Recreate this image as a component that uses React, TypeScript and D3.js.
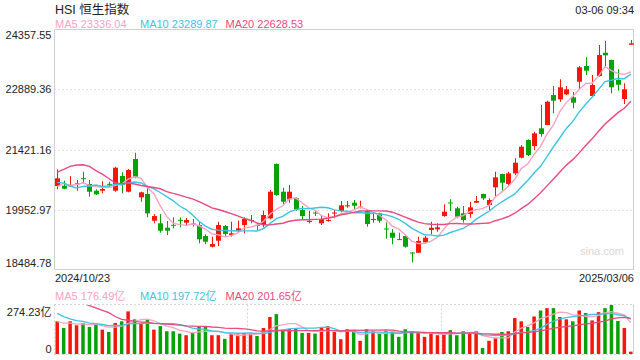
import React from "react";
import * as d3 from "d3";

const title = "HSI 恒生指数";
const timestamp = "03-06 09:34";
const dateLabels = ["2024/10/23", "2025/03/06"];

const opens = [20528, 20535, 20528, 20586, 20718, 20577, 20413, 20413, 20581, 20413, 20772, 20388, 21188, 20251, 20332, 19678, 19615, 19507, 19578, 19700, 19630, 19610, 19573, 19304, 19042, 19189, 19549, 19329, 19434, 19573, 19688, 19578, 19573, 19737, 21066, 20388, 20202, 20227, 19940, 19666, 19879, 19615, 19671, 19872, 19916, 20048, 20119, 20014, 19916, 19713, 19859, 19488, 19385, 19228, 19304, 18900, 18895, 19150, 19451, 19468, 19793, 20124, 19982, 19859, 19842, 20119, 20332, 20063, 20496, 20821, 20577, 20838, 21220, 21653, 21506, 21939, 22020, 22754, 22649, 22771, 22698, 23080, 23464, 22730, 23219, 23789, 23611, 23121, 22656, 23985];
const highs = [20936, 20657, 20772, 20674, 20877, 20674, 20447, 20643, 20633, 21000, 20863, 20943, 21342, 20388, 20510, 19842, 19842, 19671, 19762, 19762, 19745, 19720, 19654, 19346, 19287, 19654, 19573, 19654, 19678, 19762, 19818, 19615, 19923, 20430, 21080, 20486, 20552, 20251, 20038, 19923, 19940, 19818, 19859, 19940, 20161, 20161, 20185, 20168, 19940, 19874, 19874, 19639, 19475, 19385, 19346, 18910, 19287, 19304, 19654, 19615, 20080, 20202, 20021, 20038, 20136, 20283, 20340, 20227, 20877, 20830, 20877, 21205, 21531, 21670, 21856, 22510, 22615, 22975, 23139, 22975, 22828, 23464, 23677, 23244, 23978, 24076, 23620, 23383, 23041, 24100];
const lows = [20447, 20447, 20510, 20413, 20594, 20266, 20307, 20349, 20496, 20388, 20349, 20373, 20716, 20143, 19762, 19615, 19385, 19329, 19492, 19517, 19573, 19537, 19125, 19101, 19027, 19059, 19304, 19287, 19385, 19370, 19615, 19434, 19517, 19713, 20290, 20087, 20119, 19923, 19713, 19615, 19793, 19573, 19654, 19737, 19884, 19997, 19965, 19982, 19532, 19630, 19630, 19238, 19101, 19206, 19018, 18660, 18890, 19150, 19346, 19409, 19776, 19916, 19737, 19630, 19752, 20119, 20185, 19940, 20283, 20413, 20528, 20797, 21205, 21262, 21408, 21734, 22020, 22307, 22590, 22754, 22429, 22894, 23244, 22714, 23203, 23464, 22796, 22860, 22534, 23985];
const closes = [20716, 20462, 20545, 20594, 20711, 20388, 20324, 20454, 20572, 20975, 20552, 20919, 20755, 20373, 19859, 19793, 19434, 19434, 19568, 19691, 19696, 19598, 19223, 19164, 19108, 19573, 19353, 19370, 19492, 19720, 19696, 19568, 19818, 20388, 20307, 20143, 20388, 19965, 19793, 19671, 19872, 19720, 19696, 19879, 20055, 20055, 20046, 20021, 19598, 19720, 19678, 19480, 19262, 19221, 19042, 18893, 19182, 19262, 19507, 19517, 19899, 20117, 19776, 19696, 20006, 20161, 20227, 20185, 20740, 20608, 20838, 21098, 21489, 21286, 21817, 21800, 22590, 22615, 22943, 22894, 22566, 23432, 23349, 22999, 23733, 23726, 22943, 23006, 22894, 24019];
const volumes = [181, 144, 181, 159, 172, 150, 163, 135, 122, 172, 181, 236, 192, 168, 190, 135, 155, 126, 126, 113, 104, 119, 150, 150, 104, 104, 84, 113, 108, 117, 113, 100, 144, 205, 221, 135, 139, 139, 117, 117, 113, 144, 154, 122, 82, 137, 126, 73, 137, 126, 113, 126, 122, 95, 137, 126, 119, 95, 113, 104, 113, 132, 104, 126, 117, 126, 33, 73, 90, 122, 126, 199, 181, 150, 208, 241, 254, 254, 205, 192, 181, 241, 227, 186, 232, 254, 274.23, 183, 144, 13];

// earlier sessions, used only to seed the moving averages
const priorCloses = [19129, 19071, 19924, 20632, 21134, 22444, 22114, 22737, 23100, 20927, 20637, 21252, 21093, 20319, 20286, 20080, 20804, 20478, 20499];
const priorVolumes = [280, 330, 350, 400, 420, 423, 395, 382, 600, 504, 324, 311, 249, 212, 254, 189, 181, 184, 165];

const priceTicks = [24357.55, 22889.36, 21421.16, 19952.97, 18484.78];
const priceTickLabels = ["24357.55", "22889.36", "21421.16", "19952.97", "18484.78"];
const volTicks = [274.23, 0];
const volTickLabels = ["274.23亿", "0"];

const maPeriods = [5, 10, 20];
const maNames = ["MA5", "MA10", "MA20"];
const maLegendValues = ["23336.04", "23289.87", "22628.53"];
const volMaLegendValues = ["176.49亿", "197.72亿", "201.65亿"];
const maColors = ["#f7a3c2", "#3cc4e3", "#ea4a7e"];

const UP = "#f3180a";
const DOWN = "#06a206";
const FONT = "'Liberation Sans', Arial, 'Noto Sans CJK SC', sans-serif";

const L = 54, R = 634;
const MT = 29.5, MB = 269.5;
const VT = 304.5, VB = 354;

function movingAvg(prior: number[], vals: number[], n: number): number[] {
  const all = prior.concat(vals);
  const off = prior.length;
  return vals.map((_, i) => {
    const end = off + i;
    return d3.mean(all.slice(end - n + 1, end + 1)) as number;
  });
}

export default function App() {
  const idx = d3.range(closes.length);
  const x = d3.scaleBand<number>().domain(idx).range([L, R]).paddingInner(0.22).paddingOuter(0.11);
  const cx = (i: number) => (x(i) as number) + x.bandwidth() / 2;
  const y = d3.scaleLinear().domain([18484.78, 24357.55]).range([MB, MT]);
  const yv = d3.scaleLinear().domain([0, volTicks[0]]).range([VB, VT]);
  const bodyW = 5;
  const volW = 3.5;

  const priceMA = maPeriods.map((n) => movingAvg(priorCloses, closes, n));
  const volMA = maPeriods.map((n) => movingAvg(priorVolumes, volumes, n));
  const line = (sc: d3.ScaleLinear<number, number>) =>
    d3.line<number>().x((_, i) => cx(i)).y((d) => sc(d));

  const thirds = [L + (R - L) / 3, L + (2 * (R - L)) / 3];
  const legendX = [55, 140, 225.5];

  return (
    <svg width={640} height={360} style={{ position: "absolute", left: 0, top: 0, background: "#fff" }} fontFamily={FONT}>
      <defs>
        <clipPath id="mainClip"><rect x={L} y={MT} width={R - L} height={MB - MT} /></clipPath>
        <clipPath id="volClip"><rect x={L} y={VT + 0.5} width={R - L} height={VB - VT} /></clipPath>
      </defs>
      <text x={55} y={14} fontSize={12.5} fill="#222">{title}</text>
      <text x={634} y={14} fontSize={11} fill="#222" textAnchor="end">{timestamp}</text>
      {maNames.map((nm, k) => (
        <text key={nm} x={legendX[k]} y={27.5} fontSize={11} fill={maColors[k]}>{nm + " " + maLegendValues[k]}</text>
      ))}

      {/* main grid */}
      {priceTicks.slice(1, 4).map((t) => (
        <line key={t} x1={L} x2={R} y1={Math.round(y(t)) + 0.5} y2={Math.round(y(t)) + 0.5} stroke="#e3e3e3" strokeDasharray="2,2" />
      ))}
      <rect x={L + 0.5} y={MT} width={R - L - 1} height={MB - MT} fill="none" stroke="#d0d0d0" />
      {priceTickLabels.map((lab, k) => {
        let yy = y(priceTicks[k]) + 4;
        if (k === 0) yy = 38.5;
        if (k === priceTicks.length - 1) yy = 267;
        return <text key={lab} x={51.5} y={yy} fontSize={11} fill="#222" textAnchor="end">{lab}</text>;
      })}

      <text x={624} y={254.5} fontSize={11} fill="#d8d8d8" textAnchor="end">sina.com</text>

      {/* candles */}
      <g clipPath="url(#mainClip)">
        {idx.map((i) => {
          const up = closes[i] >= opens[i];
          const col = up ? UP : DOWN;
          const top = y(Math.max(opens[i], closes[i]));
          const bot = y(Math.min(opens[i], closes[i]));
          const c = Math.round(cx(i)) + 0.5;
          return (
            <g key={i}>
              <line x1={c} x2={c} y1={y(highs[i])} y2={y(lows[i])} stroke={col} strokeWidth={1} />
              <rect x={c - bodyW / 2} y={top} width={bodyW} height={Math.max(1, bot - top)} fill={col} />
            </g>
          );
        })}
        {priceMA.map((vals, k) => (
          <path key={k} d={line(y)(vals) as string} fill="none" stroke={maColors[k]} strokeWidth={1.4} />
        ))}
      </g>

      <text x={55} y={281.5} fontSize={11} fill="#222">{dateLabels[0]}</text>
      <text x={634} y={281.5} fontSize={11} fill="#222" textAnchor="end">{dateLabels[1]}</text>

      {/* volume panel */}
      {maNames.map((nm, k) => (
        <text key={nm} x={legendX[k]} y={299.5} fontSize={11} fill={maColors[k]}>{nm + " " + volMaLegendValues[k]}</text>
      ))}
      <line x1={L} x2={R} y1={VT} y2={VT} stroke="#d6d6d6" strokeDasharray="2,2" />
      <line x1={L} x2={R} y1={VB + 0.5} y2={VB + 0.5} stroke="#d6d6d6" strokeDasharray="2,2" />
      <line x1={L + 0.5} x2={L + 0.5} y1={VT} y2={VB} stroke="#d6d6d6" strokeDasharray="2,2" />
      <line x1={R - 0.5} x2={R - 0.5} y1={VT} y2={VB} stroke="#d0d0d0" />
      {thirds.map((tx) => (
        <line key={tx} x1={Math.round(tx) + 0.5} x2={Math.round(tx) + 0.5} y1={VT} y2={VB} stroke="#d6d6d6" strokeDasharray="2,2" />
      ))}
      {volTickLabels.map((lab, k) => (
        <text key={lab} x={51.5} y={k === 0 ? 315.5 : 352.5} fontSize={11} fill="#222" textAnchor="end">{lab}</text>
      ))}
      <g clipPath="url(#volClip)">
        {idx.map((i) => {
          const up = closes[i] >= opens[i];
          return (
            <rect key={i} x={cx(i) - volW / 2} y={yv(volumes[i])} width={volW} height={VB - yv(volumes[i])} fill={up ? UP : DOWN} />
          );
        })}
        {volMA.map((vals, k) => (
          <path key={k} d={line(yv)(vals) as string} fill="none" stroke={maColors[k]} strokeWidth={1.3} />
        ))}
      </g>
    </svg>
  );
}
